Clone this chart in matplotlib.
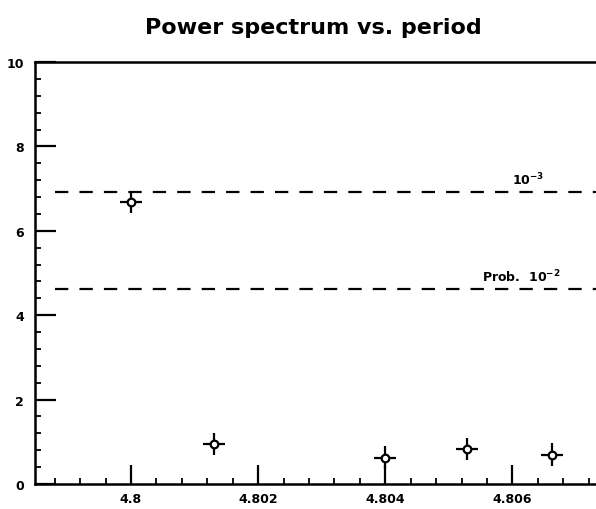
import matplotlib.pyplot as plt
from matplotlib.ticker import MultipleLocator, FixedLocator, FixedFormatter

# data
period = [4.8, 4.80131, 4.804, 4.80529, 4.80662]
power = [6.68, 0.95, 0.62, 0.83, 0.69]
period_err = [0.00017, 0.00017, 0.00017, 0.00017, 0.00017]
power_err = [0.27, 0.27, 0.27, 0.27, 0.27]

prob_levels = [6.92, 4.62]
prob_labels = ["10$^{-3}$", "Prob.  10$^{-2}$"]
label_pos = [4.80624, 4.80614]

xticks = [4.8, 4.802, 4.804, 4.806]
xtick_labels = ["4.8", "4.802", "4.804", "4.806"]
yticks = [0, 2, 4, 6, 8, 10]

plt.rcParams['font.family'] = ['DejaVu Sans']
plt.rcParams['font.weight'] = 'bold'

fig = plt.figure(figsize=(5.96, 5.10), dpi=100)
ax = fig.add_axes([0.0587, 0.049, 0.96, 0.8275])

ax.errorbar(period, power, xerr=period_err, yerr=power_err, fmt='o', color='black',
            mfc='white', mec='black', ms=5.5, mew=1.6, elinewidth=1.6, capsize=0)

for lvl, lab, xp in zip(prob_levels, prob_labels, label_pos):
    ax.axhline(lvl, xmin=0.035, xmax=1.0, color='black', lw=1.6, dashes=(6, 5))
    ax.text(xp, lvl + 0.12, lab, ha='center', va='bottom', fontsize=9, fontweight='bold')

ax.set_xlim(4.79849, 4.80749)
ax.set_ylim(0, 10)

ax.xaxis.set_major_locator(FixedLocator(xticks))
ax.xaxis.set_major_formatter(FixedFormatter(xtick_labels))
ax.xaxis.set_minor_locator(MultipleLocator(0.0004))
ax.yaxis.set_major_locator(FixedLocator(yticks))
ax.yaxis.set_minor_locator(MultipleLocator(0.4))

ax.tick_params(which='major', direction='in', length=14, width=1.6, labelsize=9, pad=6)
ax.tick_params(which='minor', direction='in', length=4, width=1.3)
ax.tick_params(axis='y', which='major', length=15, pad=8)
for lab in ax.get_xticklabels() + ax.get_yticklabels():
    lab.set_fontweight('bold')

for side in ['left', 'bottom', 'top']:
    ax.spines[side].set_linewidth(1.8)
ax.spines['right'].set_visible(False)

fig.text(0.525, 0.945, "Power spectrum vs. period", ha='center', va='center',
         fontsize=16, fontweight='bold')

fig.savefig("out.png", dpi=100)
